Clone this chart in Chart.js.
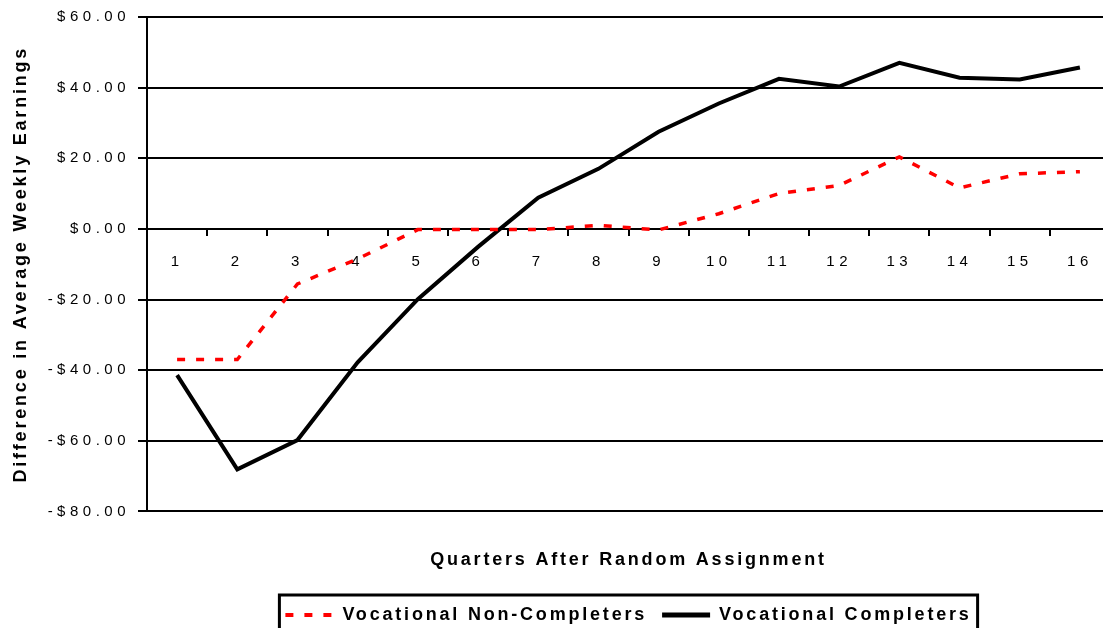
<!DOCTYPE html>
<html>
<head>
<meta charset="utf-8">
<script src="https://cdn.jsdelivr.net/npm/chart.js@4"></script>
<style>
  html, body { margin: 0; padding: 0; background: #fff; overflow: hidden; }
  #wrap { width: 1103px; height: 628px; overflow: hidden; }
  canvas { display: block; }
</style>
</head>
<body>
<div id="wrap"><canvas id="graph" width="1112" height="634"></canvas></div>
<script>
// Chart data
const quarters = ['1', '2', '3', '4', '5', '6', '7', '8', '9', '10', '11', '12', '13', '14', '15', '16'];
const nonCompleters = [-37, -37, -15.6, -8.5, -0.2, -0.2, -0.2, 1, -0.3, 4.3, 10, 12.3, 20.4, 11.6, 15.6, 16.2];
const completers = [-41.4, -68.1, -59.8, -37.8, -19.9, -5.1, 8.8, 17, 27.5, 35.5, 42.5, 40.3, 47, 42.8, 42.3, 45.7];
const yTickLabels = ['-$80.00', '-$60.00', '-$40.00', '-$20.00', '$0.00', '$20.00', '$40.00', '$60.00'];

// The original uses wide letter spacing; bold titles a bit less than the plain tick labels
const proto = CanvasRenderingContext2D.prototype;
const origFill = proto.fillText;
const origMeasure = proto.measureText;
function setSpacing(ctx) {
  ctx.letterSpacing = ctx.font.indexOf('bold') >= 0 ? '2.8px' : '4.5px';
}
proto.fillText = function(text, x, y, w) {
  setSpacing(this);
  return w === undefined ? origFill.call(this, text, x, y) : origFill.call(this, text, x, y, w);
};
proto.measureText = function(text) {
  setSpacing(this);
  return origMeasure.call(this, text);
};

// Box around the legend
const legendBox = {
  id: 'legendBox',
  afterDraw(chart) {
    const boxes = chart.legend.legendHitBoxes;
    if (!boxes || !boxes.length) return;
    const last = boxes[boxes.length - 1];
    const left = boxes[0].left - 6;
    const right = last.left + last.width + 6;
    const top = boxes[0].top - 11;
    const ctx = chart.ctx;
    ctx.save();
    ctx.strokeStyle = '#000';
    ctx.lineWidth = 3;
    ctx.strokeRect(left, top, right - left, 60);
    ctx.restore();
  }
};

Chart.defaults.font.family = 'Arial, "Liberation Sans", sans-serif';
Chart.defaults.color = '#000';

const ctx = document.getElementById('graph').getContext('2d');
new Chart(ctx, {
  type: 'line',
  data: {
    labels: quarters,
    datasets: [{
      label: 'Vocational Non-Completers',
      data: nonCompleters,
      borderColor: '#ff0000',
      backgroundColor: '#ff0000',
      borderWidth: 3.5,
      borderDash: [8, 11],
      pointRadius: 0,
      tension: 0
    }, {
      label: 'Vocational Completers',
      data: completers,
      borderColor: '#000',
      backgroundColor: '#000',
      borderWidth: 4,
      pointRadius: 0,
      tension: 0
    }]
  },
  options: {
    responsive: false,
    animation: false,
    layout: {
      padding: { top: 17, left: 10, right: 2, bottom: 0 }
    },
    scales: {
      x: {
        position: { y: 0 },
        offset: true,
        grid: {
          offset: true,
          drawOnChartArea: false,
          tickLength: 6,
          color: '#000',
          lineWidth: 2
        },
        border: { color: '#000', width: 2 },
        ticks: {
          font: { size: 15 },
          color: '#000',
          padding: 18,
          maxRotation: 0,
          autoSkip: false
        }
      },
      y: {
        min: -80,
        max: 60,
        ticks: {
          stepSize: 20,
          font: { size: 15 },
          color: '#000',
          padding: 8,
          callback: (value, index) => yTickLabels[index]
        },
        grid: { color: '#000', lineWidth: 2, tickLength: 9 },
        border: { color: '#000', width: 2 },
        title: {
          display: true,
          text: 'Difference in Average Weekly Earnings',
          font: { size: 18, weight: 'bold' },
          color: '#000',
          padding: 0
        },
        afterFit: scale => { scale.width = 137; }
      }
    },
    plugins: {
      title: {
        display: true,
        text: 'Quarters After Random Assignment',
        position: 'bottom',
        fullSize: false,
        weight: 500,
        font: { size: 18, weight: 'bold' },
        color: '#000',
        padding: { top: 38, bottom: 20 }
      },
      legend: {
        position: 'bottom',
        fullSize: false,
        labels: {
          usePointStyle: true,
          pointStyle: 'line',
          pointStyleWidth: 48,
          font: { size: 18, weight: 'bold' },
          color: '#000',
          padding: 15,
          // keep the dash pattern and width of each line in the legend sample
          generateLabels: chart => Chart.defaults.plugins.legend.labels.generateLabels(chart).map((item, i) => {
            const ds = chart.data.datasets[i];
            item.lineDash = ds.borderDash || [];
            item.lineWidth = i === 0 ? 4 : 5;
            item.strokeStyle = ds.borderColor;
            return item;
          })
        }
      },
      tooltip: { enabled: false }
    }
  },
  plugins: [legendBox]
});
</script>
</body>
</html>
